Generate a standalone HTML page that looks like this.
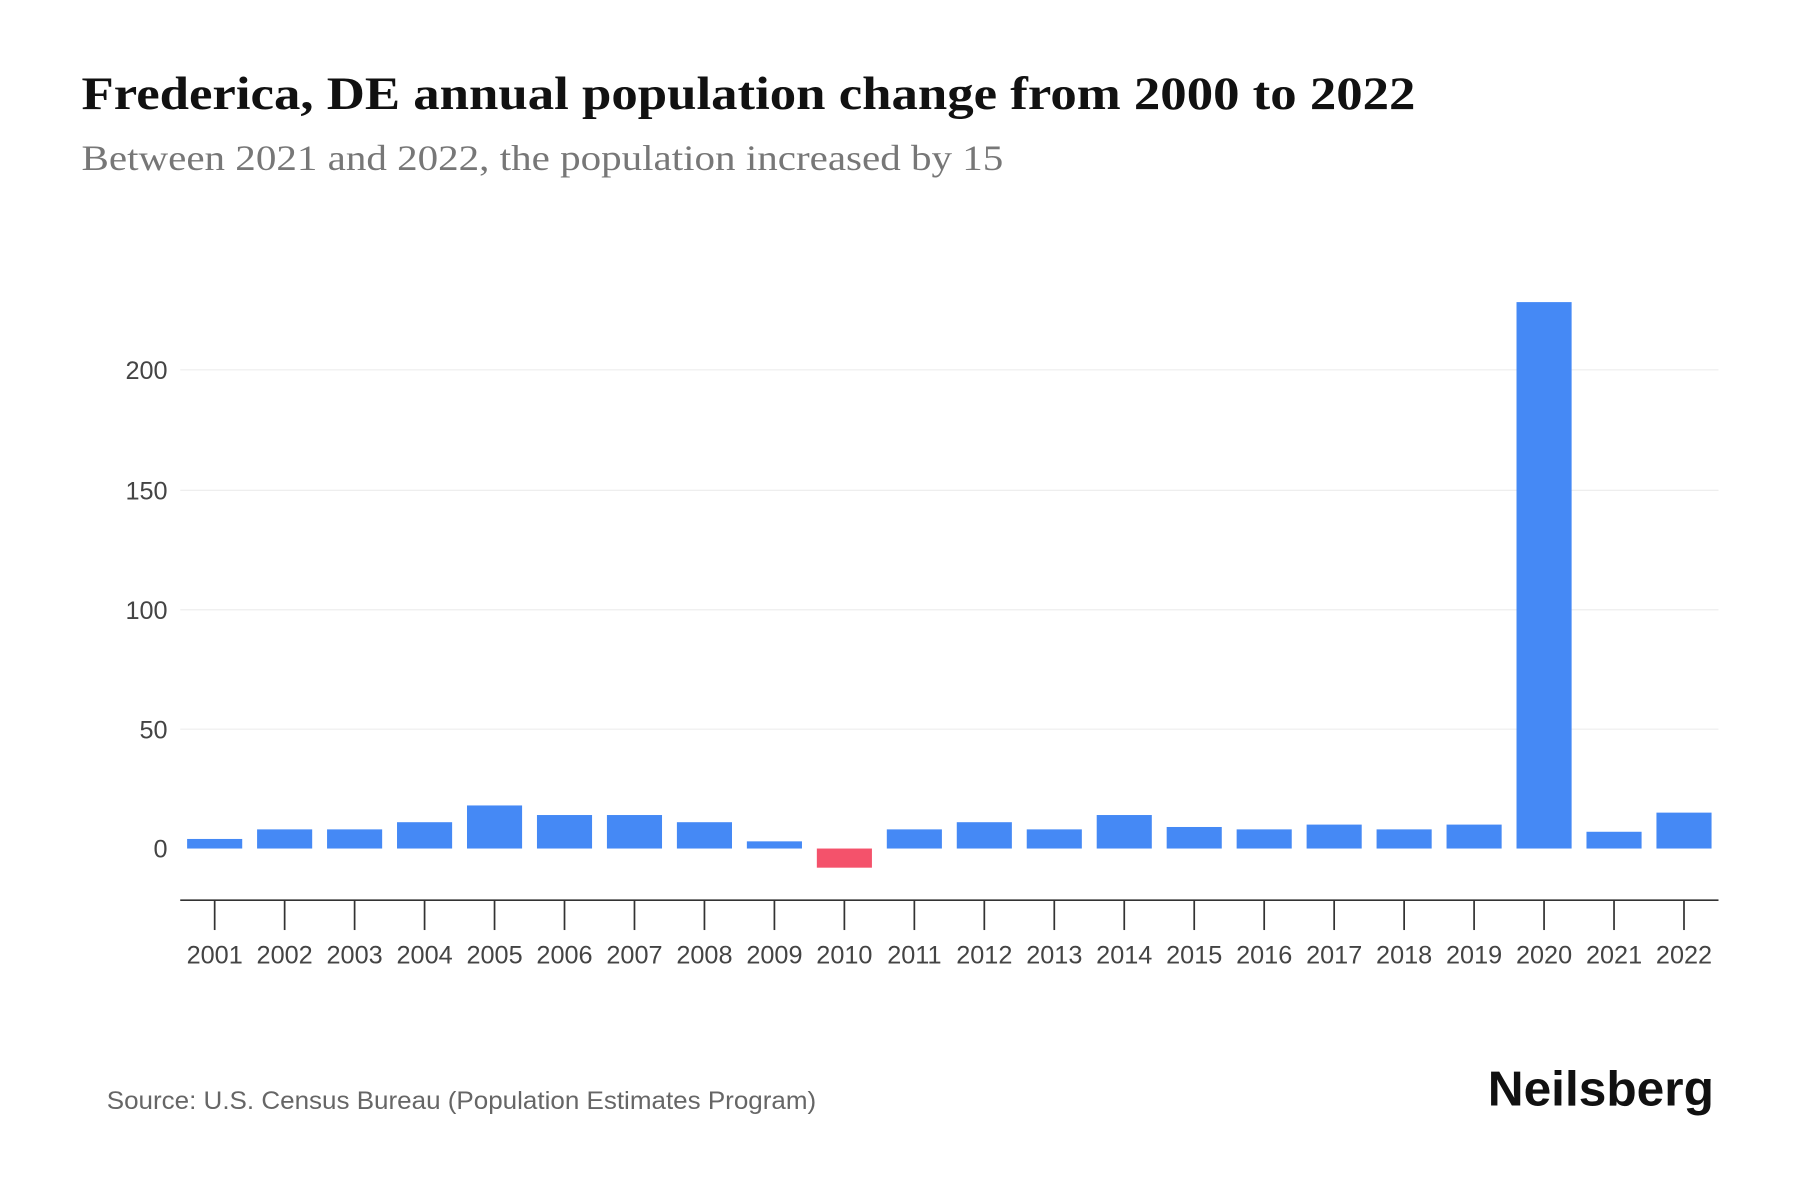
<!DOCTYPE html>
<html><head><meta charset="utf-8"><style>
html,body{margin:0;padding:0;background:#fff;}
svg{display:block;}
</style></head><body>
<svg width="1800" height="1200" viewBox="0 0 1568 1045" xmlns="http://www.w3.org/2000/svg">
<rect width="1568" height="1045" fill="#fff"/>
<text x="71" y="95" font-family="Liberation Serif, serif" font-weight="bold" font-size="41" fill="#111" textLength="1162" lengthAdjust="spacingAndGlyphs">Frederica, DE annual population change from 2000 to 2022</text>
<text x="71" y="148" font-family="Liberation Serif, serif" font-size="31" fill="#777" textLength="803" lengthAdjust="spacingAndGlyphs">Between 2021 and 2022, the population increased by 15</text>
<g stroke="#eee" stroke-width="1">
<line x1="157" x2="1497" y1="322" y2="322"/>
<line x1="157" x2="1497" y1="427" y2="427"/>
<line x1="157" x2="1497" y1="531" y2="531"/>
<line x1="157" x2="1497" y1="635" y2="635"/>
</g>
<g font-family="Liberation Sans, sans-serif" font-size="22" fill="#444" text-anchor="end">
<text x="146" y="330">200</text><text x="146" y="435">150</text><text x="146" y="539">100</text><text x="146" y="643">50</text><text x="146" y="747">0</text>
</g>
<g fill="#4589f5" width="48">
<rect x="163" y="730.66" width="48" height="8.34"/>
<rect x="223.95" y="722.32" width="48" height="16.68"/>
<rect x="284.9" y="722.32" width="48" height="16.68"/>
<rect x="345.85" y="716.06" width="48" height="22.94"/>
<rect x="406.8" y="701.47" width="48" height="37.53"/>
<rect x="467.75" y="709.81" width="48" height="29.19"/>
<rect x="528.7" y="709.81" width="48" height="29.19"/>
<rect x="589.65" y="716.06" width="48" height="22.94"/>
<rect x="650.6" y="732.74" width="48" height="6.26"/>
<rect x="711.55" y="739" width="48" height="16.68" fill="#f4526b"/>
<rect x="772.5" y="722.32" width="48" height="16.68"/>
<rect x="833.45" y="716.06" width="48" height="22.94"/>
<rect x="894.4" y="722.32" width="48" height="16.68"/>
<rect x="955.35" y="709.81" width="48" height="29.19"/>
<rect x="1016.3" y="720.23" width="48" height="18.77"/>
<rect x="1077.25" y="722.32" width="48" height="16.68"/>
<rect x="1138.2" y="718.15" width="48" height="20.85"/>
<rect x="1199.15" y="722.32" width="48" height="16.68"/>
<rect x="1260.1" y="718.15" width="48" height="20.85"/>
<rect x="1321.05" y="263" width="48" height="476"/>
<rect x="1382" y="724.4" width="48" height="14.6"/>
<rect x="1442.95" y="707.72" width="48" height="31.28"/>
</g>
<line x1="157" x2="1497" y1="784" y2="784" stroke="#333" stroke-width="1.5"/>
<g stroke="#333" stroke-width="1.5">
<line x1="187" x2="187" y1="784" y2="810"/>
<line x1="247.95" x2="247.95" y1="784" y2="810"/>
<line x1="308.9" x2="308.9" y1="784" y2="810"/>
<line x1="369.85" x2="369.85" y1="784" y2="810"/>
<line x1="430.8" x2="430.8" y1="784" y2="810"/>
<line x1="491.75" x2="491.75" y1="784" y2="810"/>
<line x1="552.7" x2="552.7" y1="784" y2="810"/>
<line x1="613.65" x2="613.65" y1="784" y2="810"/>
<line x1="674.6" x2="674.6" y1="784" y2="810"/>
<line x1="735.55" x2="735.55" y1="784" y2="810"/>
<line x1="796.5" x2="796.5" y1="784" y2="810"/>
<line x1="857.45" x2="857.45" y1="784" y2="810"/>
<line x1="918.4" x2="918.4" y1="784" y2="810"/>
<line x1="979.35" x2="979.35" y1="784" y2="810"/>
<line x1="1040.3" x2="1040.3" y1="784" y2="810"/>
<line x1="1101.25" x2="1101.25" y1="784" y2="810"/>
<line x1="1162.2" x2="1162.2" y1="784" y2="810"/>
<line x1="1223.15" x2="1223.15" y1="784" y2="810"/>
<line x1="1284.1" x2="1284.1" y1="784" y2="810"/>
<line x1="1345.05" x2="1345.05" y1="784" y2="810"/>
<line x1="1406" x2="1406" y1="784" y2="810"/>
<line x1="1466.95" x2="1466.95" y1="784" y2="810"/>
</g>
<g font-family="Liberation Sans, sans-serif" font-size="22" fill="#444" text-anchor="middle">
<text x="187" y="839">2001</text><text x="247.95" y="839">2002</text><text x="308.9" y="839">2003</text><text x="369.85" y="839">2004</text><text x="430.8" y="839">2005</text><text x="491.75" y="839">2006</text><text x="552.7" y="839">2007</text><text x="613.65" y="839">2008</text><text x="674.6" y="839">2009</text><text x="735.55" y="839">2010</text><text x="796.5" y="839">2011</text><text x="857.45" y="839">2012</text><text x="918.4" y="839">2013</text><text x="979.35" y="839">2014</text><text x="1040.3" y="839">2015</text><text x="1101.25" y="839">2016</text><text x="1162.2" y="839">2017</text><text x="1223.15" y="839">2018</text><text x="1284.1" y="839">2019</text><text x="1345.05" y="839">2020</text><text x="1406" y="839">2021</text><text x="1466.95" y="839">2022</text>
</g>
<text x="93" y="966" font-family="Liberation Sans, sans-serif" font-size="22" fill="#666" textLength="618" lengthAdjust="spacingAndGlyphs">Source: U.S. Census Bureau (Population Estimates Program)</text>
<text x="1493" y="963" font-family="Liberation Sans, sans-serif" font-weight="bold" font-size="43" fill="#111" text-anchor="end" textLength="197" lengthAdjust="spacingAndGlyphs">Neilsberg</text>
</svg>
</body></html>
